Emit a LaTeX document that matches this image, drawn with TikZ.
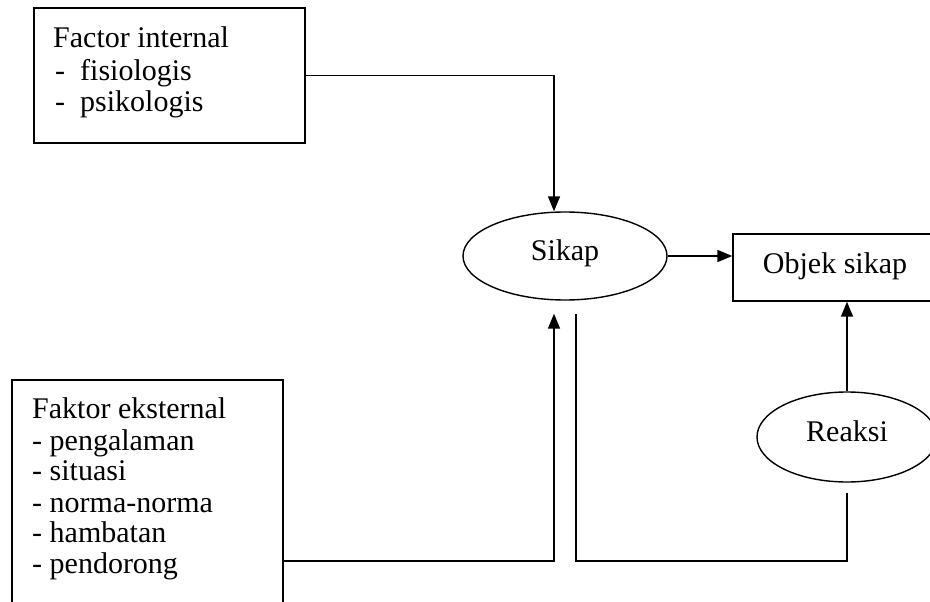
\documentclass[tikz,border=0pt]{standalone}
\usepackage{fontspec}
\setmainfont{Liberation Serif}
\usetikzlibrary{shapes.geometric,arrows.meta}
\tikzset{
  lbl/.style={anchor=base west, inner sep=0pt, font=\fontsize{30}{32}\selectfont},
  boxshape/.style={draw, line width=1.4pt, rectangle, inner sep=0pt},
  ovalshape/.style={draw, line width=1.4pt, ellipse, inner sep=0pt},
  conn/.style={line width=1.5pt},
  arr/.style={conn, -{Triangle[width=12pt,length=15pt]}}
}
\begin{document}
\begin{tikzpicture}[x=1pt,y=-1pt]
\useasboundingbox (0,0) rectangle (930,602);
% boxes
\node[boxshape, minimum width=271pt, minimum height=135pt] (int) at (169.5,75.5) {};
\node[lbl] (int1) at (53,48) {Factor internal};
\node[lbl] (int2) at (55,81) {-~~fisiologis};
\node[lbl] (int3) at (55,112) {-~~psikologis};
\node[boxshape, minimum width=271pt, minimum height=362pt] (ext) at (147.5,561) {};
\node[lbl] (ext1) at (32,418) {Faktor eksternal};
\node[lbl] (ext2) at (32,450) {- pengalaman};
\node[lbl] (ext3) at (32,480) {- situasi};
\node[lbl] (ext4) at (32,512) {- norma-norma};
\node[lbl] (ext5) at (32,542) {- hambatan};
\node[lbl] (ext6) at (32,573) {- pendorong};
\node[ovalshape, minimum width=204pt, minimum height=88pt] (sikap) at (565,256) {};
\node[lbl, anchor=base] (sikapt) at (565,260) {Sikap};
\node[boxshape, minimum width=204pt, minimum height=67pt] (objek) at (835,267.5) {};
\node[lbl, anchor=base] (objekt) at (835,273) {Objek sikap};
\node[ovalshape, minimum width=180pt, minimum height=90pt] (reaksi) at (847,437) {};
\node[lbl, anchor=base] (reaksit) at (847,441) {Reaksi};
% helper coordinates
\coordinate (sin) at ([xshift=-11pt]sikap.north);
\coordinate (sb1) at ([xshift=-11pt,yshift=-13pt]sikap.south);
\coordinate (sb2) at ([xshift=11pt,yshift=-13pt]sikap.south);
\coordinate (rb) at ([yshift=-10pt]reaksi.south);
% connectors
\draw[arr] (int.east) -| (sin);
\draw[arr] (sikap.east) -- (sikap.east -| objek.west);
\draw[arr] (reaksi.north) -- (reaksi.north |- objek.south);
\draw[arr] (ext.east) -| (sb1);
\draw[conn] (rb) |- (sb2 |- ext.east) -- (sb2);
\end{tikzpicture}
\end{document}
